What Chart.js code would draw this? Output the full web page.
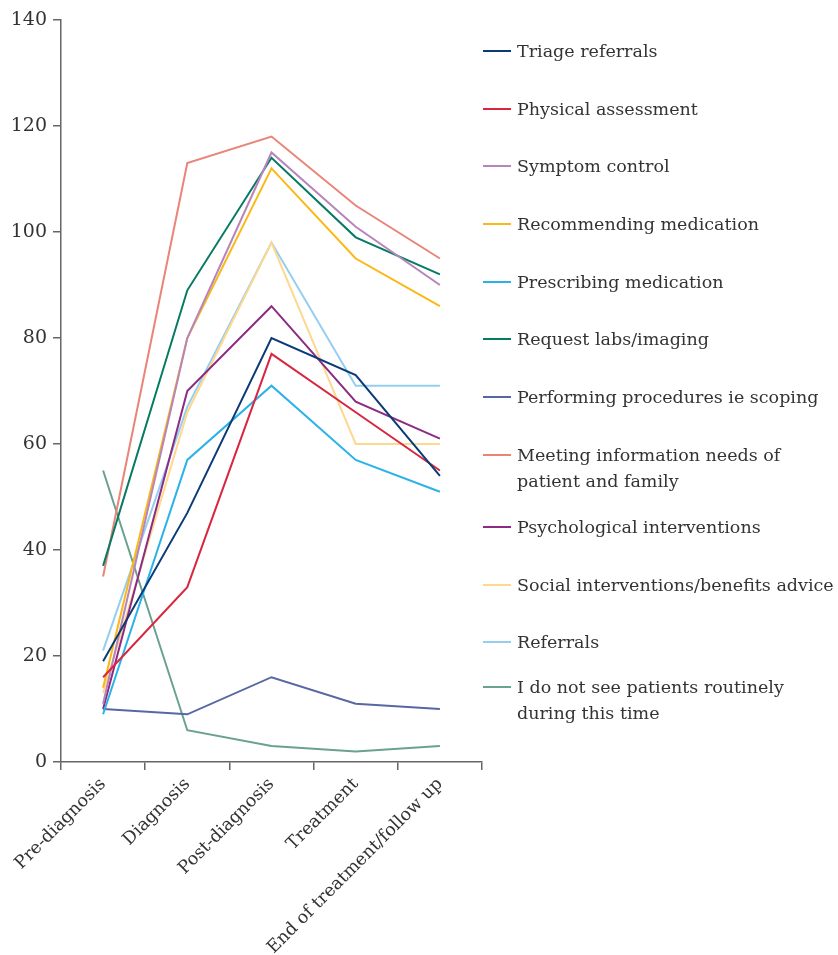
<!DOCTYPE html>
<html>
<head>
<meta charset="utf-8">
<script src="https://cdn.jsdelivr.net/npm/chart.js@4.4.1/dist/chart.umd.min.js"></script>
<style>
  body { margin: 0; background: #fff; }
  #wrap { position: relative; width: 838px; height: 955px; }
  #legend { position: absolute; left: 483px; top: 0; font-family: "DejaVu Serif", serif; font-size: 17.5px; color: #333; }
  .txt { position: absolute; left: 0; padding-left: 34px; line-height: 26px; white-space: nowrap; }
  .sw { position: absolute; left: 0; top: 12px; width: 28px; height: 2px; }
</style>
</head>
<body>
<div id="wrap">
  <canvas id="chart" width="838" height="955"></canvas>
  <div id="legend"></div>
</div>
<script>
// stages along the x axis
const stages = ["Pre-diagnosis", "Diagnosis", "Post-diagnosis", "Treatment", "End of treatment/follow up"];
const yTicks = [0, 20, 40, 60, 80, 100, 120, 140];

// one array per activity (number of respondents)
const triage       = [19, 47, 80, 73, 54];
const physical     = [16, 33, 77, 66, 55];
const symptom      = [11, 80, 115, 101, 90];
const recommending = [14, 80, 112, 95, 86];
const prescribing  = [9, 57, 71, 57, 51];
const labs         = [37, 89, 114, 99, 92];
const procedures   = [10, 9, 16, 11, 10];
const infoNeeds    = [35, 113, 118, 105, 95];
const psych        = [10, 70, 86, 68, 61];
const social       = [13, 66, 98, 60, 60];
const referrals    = [21, 67, 98, 71, 71];
const notSeen      = [55, 6, 3, 2, 3];

const series = [
  { label: ["Triage referrals"], data: triage, color: "#0b3a78" },
  { label: ["Physical assessment"], data: physical, color: "#d9263f" },
  { label: ["Symptom control"], data: symptom, color: "#b784bb" },
  { label: ["Recommending medication"], data: recommending, color: "#fbb814" },
  { label: ["Prescribing medication"], data: prescribing, color: "#2bb3e8" },
  { label: ["Request labs/imaging"], data: labs, color: "#077a62" },
  { label: ["Performing procedures ie scoping"], data: procedures, color: "#5668a4" },
  { label: ["Meeting information needs of", "patient and family"], data: infoNeeds, color: "#ea8478" },
  { label: ["Psychological interventions"], data: psych, color: "#8b2b84" },
  { label: ["Social interventions/benefits advice"], data: social, color: "#fdd88e" },
  { label: ["Referrals"], data: referrals, color: "#95ceef" },
  { label: ["I do not see patients routinely", "during this time"], data: notSeen, color: "#6aa192" }
];

// legend layout: centre of each entry's first line (px from top)
const legendRows = [51, 109, 166, 224, 282, 339, 397, 455, 527, 585, 642, 687];

const font = { family: "'DejaVu Serif', serif", size: 17.5 };
const axisColor = "#666";

new Chart(document.getElementById("chart"), {
  type: "line",
  data: {
    labels: stages,
    datasets: series.map(s => ({
      label: s.label.join(" "),
      data: s.data,
      borderColor: s.color,
      backgroundColor: s.color,
      borderWidth: 2,
      pointRadius: 0,
      tension: 0
    }))
  },
  options: {
    responsive: false,
    animation: false,
    layout: { padding: { top: 20, right: 356, left: 0, bottom: 0 } },
    plugins: { legend: { display: false }, tooltip: { enabled: false } },
    scales: {
      x: {
        offset: true,
        grid: { offset: true, drawOnChartArea: false, drawTicks: true, tickLength: 8, color: axisColor, lineWidth: 1.5 },
        border: { color: axisColor, width: 1.5 },
        ticks: { minRotation: 45, maxRotation: 45, font: font, color: "#333", padding: 4 },
        afterFit: s => { s.height = 193; }
      },
      y: {
        min: 0,
        max: 140,
        afterBuildTicks: s => { s.ticks = yTicks.map(v => ({ value: v })); },
        grid: { drawOnChartArea: false, drawTicks: true, tickLength: 8, color: axisColor, lineWidth: 1.5 },
        border: { color: axisColor, width: 1.5 },
        ticks: { font: { family: font.family, size: 19 }, color: "#333", padding: 6 },
        afterFit: s => { s.width = 61; }
      }
    }
  }
});

// legend on the right
const legend = document.getElementById("legend");
series.forEach((s, i) => {
  const txt = document.createElement("div");
  txt.className = "txt";
  txt.style.top = (legendRows[i] - 13) + "px";
  txt.innerHTML = '<span class="sw" style="background:' + s.color + '"></span>' + s.label.join("<br>");
  legend.appendChild(txt);
});
</script>
</body>
</html>
